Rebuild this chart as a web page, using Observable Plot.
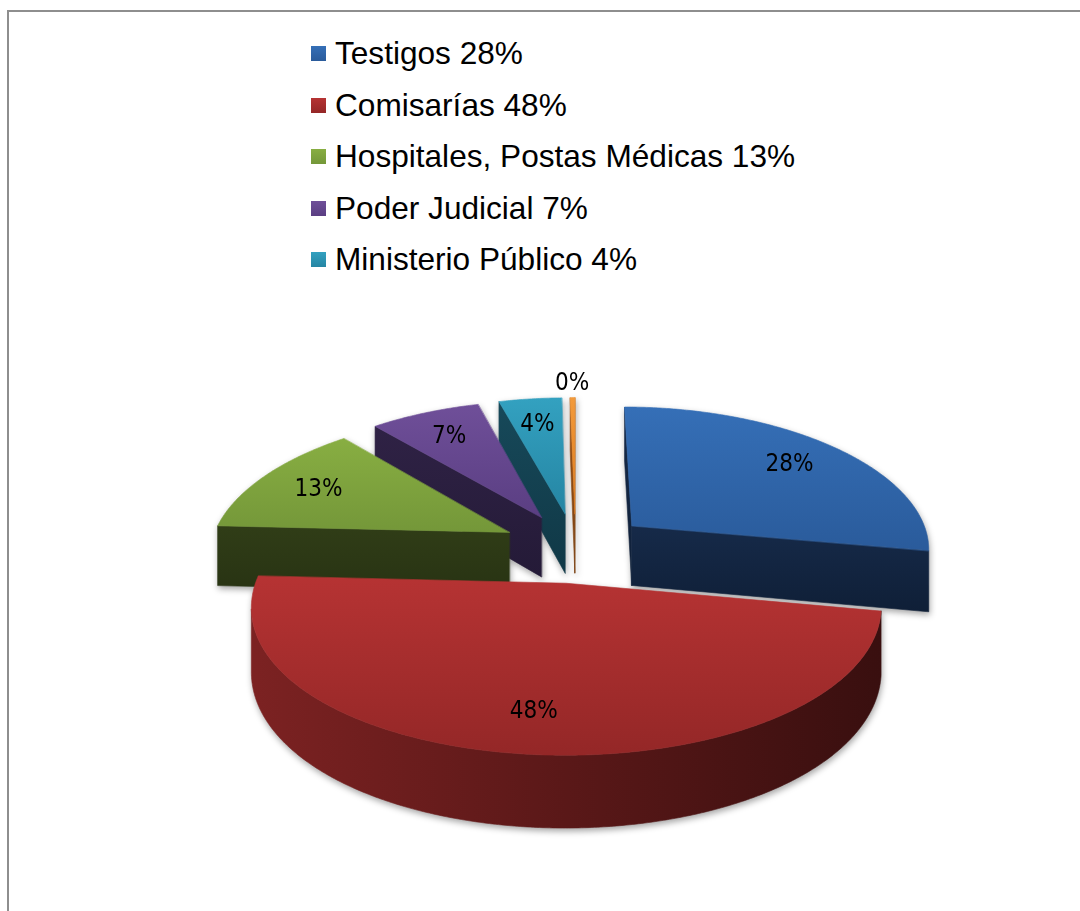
<!DOCTYPE html>
<html><head><meta charset="utf-8">
<script src="https://cdn.jsdelivr.net/npm/d3@7"></script>
<script src="https://cdn.jsdelivr.net/npm/@observablehq/plot@0.6"></script>
<style>
html,body{margin:0;padding:0;background:#fff}
body{width:1080px;height:911px;overflow:hidden;position:relative;font-family:"Liberation Sans",Arial,sans-serif}
#frame{position:absolute;left:7px;top:10px;width:1200px;height:1000px;border-left:2px solid #8e8e8e;border-top:2px solid #8e8e8e}
#legend{position:absolute;left:311px;top:28px}
.item{display:flex;align-items:center;height:51.5px;font-size:31.6px;color:#000;white-space:nowrap}
.sw{width:15px;height:15px;margin-right:9px;flex:none}
#chart{position:absolute;left:0;top:300px}
</style></head><body>
<div id="frame"></div>
<div id="legend"></div>
<div id="chart"></div>
<script>
// ---- data ----
const categories = ["Testigos", "Comisarías", "Hospitales, Postas Médicas", "Poder Judicial", "Ministerio Público", "Otros"];
const values = [28, 48, 13, 7, 4, 0.3];
const inLegend = [true, true, true, true, true, false];

// ---- styles ----
const topColors = [["#356fb7", "#2a5b9b"], ["#b63333", "#942727"], ["#88ae42", "#749739"], ["#6f4f99", "#5a3e82"], ["#33a1c0", "#2585a3"], ["#f39a3a", "#de7a1c"]];
const sideColors = [["#162a49", "#0f1f37"], ["#7c2222", "#5a1818", "#390f0f"], ["#303d17", "#283313"], ["#2f2245", "#241a37"], ["#17495a", "#103846"], ["#9a5216", "#7a4010"]];
const P = {x0: 575, y0: 547, sx: 299.5, sy: 139.4, kx: 0.15, ky: 0.13, h: 61, explode: 0.25, labelR: 0.77, outerLabelR: 1.15};

const total = d3.sum(values);
const pct = values.map(v => Math.round(v / total * 100));

// legend
const legend = d3.select("#legend");
categories.forEach((c, i) => {
  if (!inLegend[i]) return;
  const it = legend.append("div").attr("class", "item");
  it.append("div").attr("class", "sw").style("background", `linear-gradient(to bottom, ${topColors[i][0]}, ${topColors[i][1]})`);
  it.append("span").text(`${c} ${pct[i]}%`);
});

// pseudo-perspective projection of the pie (world units = pie radius)
const cam = [0, -1 / P.kx];
function proj(X, Y, bottom) {
  const wx = 1 + P.kx * Y, wy = 1 + P.ky * Y;
  return {x: P.x0 + P.sx * X / wx, y: P.y0 - P.sy * Y / wy + (bottom ? P.h / wy : 0)};
}

const arcs = d3.pie().sort(null).value(d => d)(values);
const slices = arcs.map((a, i) => {
  const mid = (a.startAngle + a.endAngle) / 2;
  const cx = P.explode * Math.sin(mid), cy = P.explode * Math.cos(mid);
  const at = (t, r = 1, b = false) => proj(cx + r * Math.sin(t), cy + r * Math.cos(t), b);
  const n = Math.max(2, Math.ceil((a.endAngle - a.startAngle) / (Math.PI / 360)));
  const ts = d3.range(n + 1).map(j => a.startAngle + (a.endAngle - a.startAngle) * j / n);
  const dcx = cam[0] - cx, dcy = cam[1] - cy;
  const faces = [];
  const nS = [-Math.cos(a.startAngle), Math.sin(a.startAngle)];
  if (dcx * nS[0] + dcy * nS[1] > 0)
    faces.push({type: "side", pts: [proj(cx, cy, false), at(a.startAngle), at(a.startAngle, 1, true), proj(cx, cy, true)]});
  const nE = [Math.cos(a.endAngle), -Math.sin(a.endAngle)];
  if (dcx * nE[0] + dcy * nE[1] > 0)
    faces.push({type: "side", pts: [proj(cx, cy, false), at(a.endAngle), at(a.endAngle, 1, true), proj(cx, cy, true)]});
  let run = [];
  const flush = () => {
    if (run.length > 1) faces.push({type: "side", pts: [...run.map(t => at(t)), ...run.slice().reverse().map(t => at(t, 1, true))]});
    run = [];
  };
  for (const t of ts) {
    if (dcx * Math.sin(t) + dcy * Math.cos(t) - 1 > 0) run.push(t); else flush();
  }
  flush();
  faces.push({type: "top", pts: [proj(cx, cy, false), ...ts.map(t => at(t))]});
  const share = values[i] / total;
  const lr = share < 0.01 ? P.outerLabelR : P.labelR;
  const lp = at(mid, lr);
  return {i, cy, faces, label: {x: lp.x, y: lp.y, text: `${pct[i]}%`}};
});

const order = slices.slice().sort((a, b) => b.cy - a.cy);
const marks = [];
for (const s of order) {
  for (const f of s.faces) {
    const id = `url(#${f.type}${s.i})`;
    marks.push(Plot.line(f.pts, {x: "x", y: "y", curve: "linear-closed", fill: id, stroke: id, strokeWidth: 0.6}));
  }
}
marks.push(Plot.text(slices.map(s => s.label), {x: "x", y: "y", text: "text", fontSize: 24, fill: "#000",
  fontFamily: "'Liberation Sans Narrow','DejaVu Sans Condensed','Open Sans',sans-serif"}));

const svg = Plot.plot({
  width: 1080, height: 611, margin: 0,
  x: {domain: [0, 1080], range: [0, 1080], axis: null},
  y: {domain: [300, 911], range: [0, 611], axis: null},
  marks
});

const S = d3.select(svg);
const defs = S.insert("defs", ":first-child");
slices.forEach(s => {
  const g1 = defs.append("linearGradient").attr("id", `top${s.i}`).attr("x1", 0).attr("y1", 0).attr("x2", 0).attr("y2", 1);
  topColors[s.i].forEach((c, j, arr) => g1.append("stop").attr("offset", j / (arr.length - 1)).attr("stop-color", c));
  const horiz = sideColors[s.i].length > 2;
  const g2 = defs.append("linearGradient").attr("id", `side${s.i}`).attr("x1", 0).attr("y1", 0).attr("x2", horiz ? 1 : 0).attr("y2", horiz ? 0 : 1);
  sideColors[s.i].forEach((c, j, arr) => g2.append("stop").attr("offset", j / (arr.length - 1)).attr("stop-color", c));
});
const textG = S.select('g[aria-label="text"]').node();
const wrap = S.insert("g", () => textG).attr("style", "filter: drop-shadow(1px 3px 3px rgba(0,0,0,0.35))");
S.selectAll('g[aria-label="line"]').each(function() { wrap.node().appendChild(this); });

document.getElementById("chart").appendChild(svg);
</script>
</body></html>
